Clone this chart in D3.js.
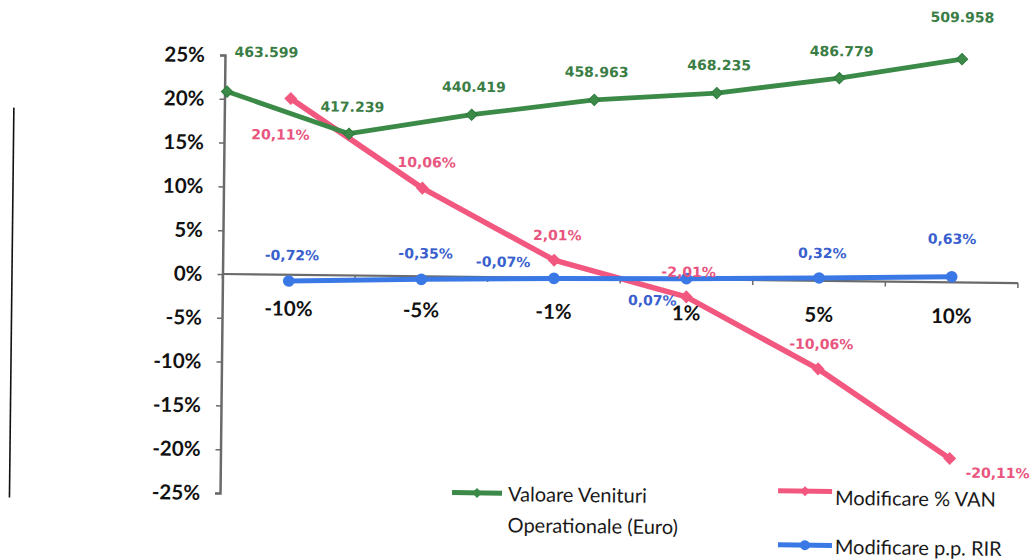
<!DOCTYPE html>
<html><head><meta charset="utf-8">
<script src="https://cdn.jsdelivr.net/npm/d3@7"></script>
<style>body{margin:0;background:#fff}svg{display:block}</style>
</head><body><svg id="c" width="1035" height="559"></svg>
<script>
// ---- data ----
const categories = ["-10%", "-5%", "-1%", "1%", "5%", "10%"];
const vanChange = [20.11, 10.06, 2.01, -2.01, -10.06, -20.11];      // Modificare % VAN
const rirChange = [-0.72, -0.35, -0.07, 0.07, 0.32, 0.63];          // Modificare p.p. RIR
const revenue = [463599, 417239, 440419, 458963, 468235, 486779, 509958]; // Valoare Venituri Operationale (Euro)
const yTicks = [25, 20, 15, 10, 5, 0, -5, -10, -15, -20, -25];
const seriesNames = ["Valoare Venituri", "Operationale (Euro)", "Modificare % VAN", "Modificare p.p. RIR"];

// ---- label placement (layout only) ----
const revLabelOff = [[39,-40],[3,-27],[2,-28],[2,-28],[2,-28],[2,-27],[0,-42]];
const vanLabelOff = [[-10,36],[4,-26],[3,-25],[2,-25],[3,-25],[48,14]];
const rirLabelOff = [[3,-26],[4,-26],[-51,-16],[-34,22],[3,-25],[0,-38]];

const C = {green:"#3b8a48", greenDark:"#2f7a3c", greenText:"#3a7d45",
           pink:"#f2587f", pinkText:"#e8557e", blue:"#3a78e6", blueText:"#3a5fce", axis:"#6a6a6a"};

const ro = d3.formatLocale({decimal: ",", thousands: ".", grouping: [3], currency: ["", ""], minus: "-"});

const svg = d3.select("#c");
const L = 222.5, R = 1018, T = 55, B = 493;
const g = svg.append("g").attr("transform", "rotate(0.65,222,274)");

// scan edge line
g.append("line").attr("x1",12).attr("x2",12).attr("y1",110).attr("y2",500)
  .attr("stroke","#111").attr("stroke-width",1.6);

const x = d3.scaleBand().domain(categories).range([L, R]);
const y = d3.scaleLinear().domain([-25, 25]).range([B, T]);
const xRev = d3.scalePoint().domain(d3.range(revenue.length)).range([L + 2.5, L + (R - L) * 0.9265]);
const yRev = d3.scaleLinear().domain([7350, 505100]).range([B, T]);
const cx = c => x(c) + x.bandwidth() / 2;

// Y axis
const yAxis = g.append("g").attr("transform", `translate(${L},0)`)
  .call(d3.axisLeft(y).tickValues(yTicks).tickSize(5).tickPadding(15).tickFormat(d => ro.format("d")(d) + "%"));
yAxis.select(".domain").attr("stroke", C.axis).attr("stroke-width", 2.5);
yAxis.selectAll(".tick line").attr("stroke", C.axis).attr("stroke-width", 1.5);
yAxis.selectAll(".tick text").attr("font-family", "Lato, 'Open Sans', sans-serif")
  .attr("font-weight", "bold").attr("font-size", 20.5).attr("fill", "#111");

// X axis (on zero line)
const y0 = y(0);
const xAxis = g.append("g").attr("transform", `translate(0,${y0})`)
  .call(d3.axisBottom(x).tickSize(0).tickPadding(26.5));
xAxis.select(".domain").remove();
xAxis.selectAll(".tick text").attr("font-family", "Lato, 'Open Sans', sans-serif")
  .attr("font-weight", "bold").attr("font-size", 20.5).attr("fill", "#111");
g.append("line").attr("x1", L).attr("x2", R).attr("y1", y0).attr("y2", y0)
  .attr("stroke", C.axis).attr("stroke-width", 2.2);
const bounds = categories.map(c => x(c)).concat([x.range()[1]]);
g.selectAll(".xt").data(bounds).join("line").attr("class","xt")
  .attr("x1", d => d).attr("x2", d => d).attr("y1", y0).attr("y2", y0 + 5)
  .attr("stroke", C.axis).attr("stroke-width", 1.5);

const diamond = s => d3.symbol().type(d3.symbolSquare).size(s)();

// Pink series: Modificare % VAN
const vanPts = vanChange.map((v, i) => [cx(categories[i]), y(v)]);
g.append("path").attr("d", d3.line()(vanPts)).attr("fill", "none")
  .attr("stroke", C.pink).attr("stroke-width", 5.5).attr("stroke-linejoin", "round");
g.selectAll(".vm").data(vanPts).join("path").attr("class","vm")
  .attr("d", diamond(85)).attr("transform", d => `translate(${d[0]},${d[1]}) rotate(45)`)
  .attr("fill", C.pink);

// Blue series: Modificare p.p. RIR
const rirPts = rirChange.map((v, i) => [cx(categories[i]), y(v)]);
g.append("path").attr("d", d3.line()(rirPts)).attr("fill", "none")
  .attr("stroke", C.blue).attr("stroke-width", 5).attr("stroke-linejoin", "round");
g.selectAll(".rm").data(rirPts).join("circle").attr("class","rm")
  .attr("cx", d => d[0]).attr("cy", d => d[1]).attr("r", 5.8).attr("fill", C.blue);

// Green series: Valoare Venituri Operationale (secondary axis, hidden)
const revPts = revenue.map((v, i) => [xRev(i), yRev(v)]);
g.append("path").attr("d", d3.line()(revPts)).attr("fill", "none")
  .attr("stroke", C.green).attr("stroke-width", 4.8).attr("stroke-linejoin", "round");
g.selectAll(".gm").data(revPts).join("path").attr("class","gm")
  .attr("d", diamond(64)).attr("transform", d => `translate(${d[0]},${d[1]}) rotate(45)`)
  .attr("fill", C.green).attr("stroke", C.greenDark).attr("stroke-width", 1);

// Data labels
const lblFont = "'DejaVu Sans', Verdana, sans-serif";
const fmtRev = v => ro.format(",d")(v);
const fmtPct = v => ro.format(".2f")(v) + "%";
function labels(pts, vals, offs, fmt, color, cls) {
  g.selectAll("." + cls).data(pts).join("text").attr("class", cls)
    .attr("x", (d, i) => d[0] + offs[i][0]).attr("y", (d, i) => d[1] + offs[i][1])
    .attr("dy", "0.36em").attr("text-anchor", "middle")
    .attr("font-family", lblFont).attr("font-weight", "bold").attr("font-size", 14)
    .attr("fill", color).text((d, i) => fmt(vals[i]));
}
labels(vanPts, vanChange, vanLabelOff, fmtPct, C.pinkText, "vl");
labels(rirPts, rirChange, rirLabelOff, fmtPct, C.blueText, "rl");
labels(revPts, revenue, revLabelOff, fmtRev, C.greenText, "gl");

// Legend
const legFont = "Lato, 'Open Sans', sans-serif";
function legLine(x1, x2, yy, color, marker) {
  g.append("line").attr("x1", x1).attr("x2", x2).attr("y1", yy).attr("y2", yy)
    .attr("stroke", color).attr("stroke-width", 5);
  const m = (x1 + x2) / 2;
  if (marker === "circle") g.append("circle").attr("cx", m).attr("cy", yy).attr("r", 5).attr("fill", color);
  else g.append("path").attr("d", diamond(50)).attr("transform", `translate(${m},${yy}) rotate(45)`).attr("fill", color);
}
function legText(tx, ty, s) {
  g.append("text").attr("x", tx).attr("y", ty).attr("font-family", legFont)
    .attr("font-size", 20).attr("fill", "#1a1a1a").text(s);
}
legLine(454.5, 504.5, 490, C.green, "diamond");
legText(510.5, 498, seriesNames[0]);
legText(510.5, 529, seriesNames[1]);
legLine(780.5, 834.5, 484.5, C.pink, "diamond");
legText(837.5, 498, seriesNames[2]);
legLine(781, 835, 538.5, C.blue, "circle");
legText(838, 547, seriesNames[3]);
</script>
</body></html>
